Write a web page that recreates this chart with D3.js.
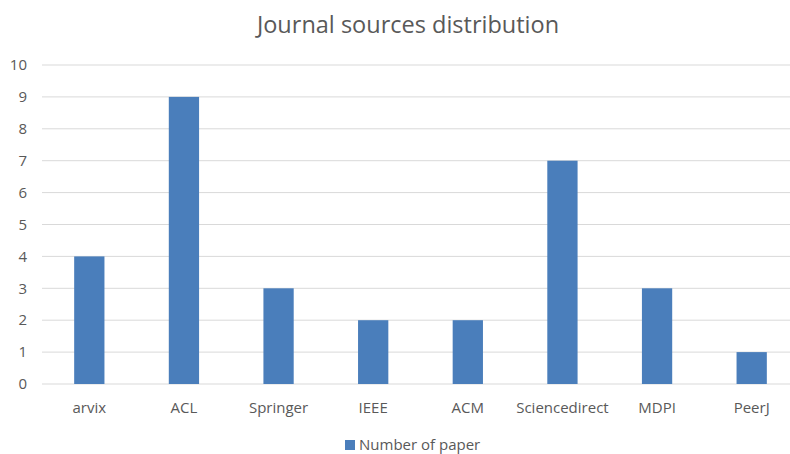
<!DOCTYPE html>
<html>
<head>
<meta charset="utf-8">
<script src="https://cdn.jsdelivr.net/npm/d3@7"></script>
<style>
  body { margin: 0; background: #fff; }
  svg { display: block; font-family: "Open Sans", sans-serif; }
</style>
</head>
<body>
<div class="chart"></div>
<script>
const categories = ['arvix', 'ACL', 'Springer', 'IEEE', 'ACM', 'Sciencedirect', 'MDPI', 'PeerJ'];
const paperCounts = [4, 9, 3, 2, 2, 7, 3, 1];
const yTicks = [0, 1, 2, 3, 4, 5, 6, 7, 8, 9, 10];
const seriesName = 'Number of paper';
const chartTitle = 'Journal sources distribution';

const width = 790, height = 454;
const margin = { top: 65, left: 42, right: -9, bottom: 70 };

const svg = d3.select('.chart').append('svg')
    .attr('width', width).attr('height', height);

const x = d3.scaleBand().domain(categories)
    .range([margin.left, width - margin.right])
    .paddingInner(0.68).paddingOuter(0.34);

const y = d3.scaleLinear().domain([0, 10])
    .range([height - margin.bottom, margin.top]);

// title
svg.append('text')
    .attr('x', 408).attr('y', 33)
    .attr('text-anchor', 'middle')
    .style('font-size', '23.5px')
    .style('fill', '#595959')
    .text(chartTitle);

// grid lines
svg.append('g').selectAll('line').data(yTicks)
    .enter().append('line')
    .attr('x1', margin.left).attr('x2', width - margin.right)
    .attr('y1', d => y(d)).attr('y2', d => y(d))
    .style('stroke', '#d9d9d9').style('stroke-width', 1);

// y axis labels
svg.append('g').selectAll('text').data(yTicks)
    .enter().append('text')
    .attr('x', 27).attr('y', d => y(d))
    .attr('dy', '0.35em')
    .attr('text-anchor', 'end')
    .style('font-size', '15px').style('fill', '#595959')
    .text(d => d);

// bars
svg.append('g').selectAll('rect').data(paperCounts)
    .enter().append('rect')
    .attr('x', (d, i) => x(categories[i]))
    .attr('width', x.bandwidth())
    .attr('y', d => y(d))
    .attr('height', d => y(0) - y(d))
    .style('fill', '#4a7ebb');

// x axis labels
svg.append('g').selectAll('text').data(categories)
    .enter().append('text')
    .attr('x', d => x(d) + x.bandwidth() / 2)
    .attr('y', 408).attr('dy', '0.35em')
    .attr('text-anchor', 'middle')
    .style('font-size', '15px').style('fill', '#595959')
    .text(d => d);

// legend
const legend = svg.append('g').attr('transform', 'translate(345, 445)');
legend.append('rect')
    .attr('x', 0).attr('y', -5).attr('width', 10).attr('height', 10)
    .style('fill', '#4a7ebb');
legend.append('text')
    .attr('x', 14).attr('y', 0).attr('dy', '0.35em')
    .style('font-size', '15px').style('fill', '#595959')
    .text(seriesName);
</script>
</body>
</html>
